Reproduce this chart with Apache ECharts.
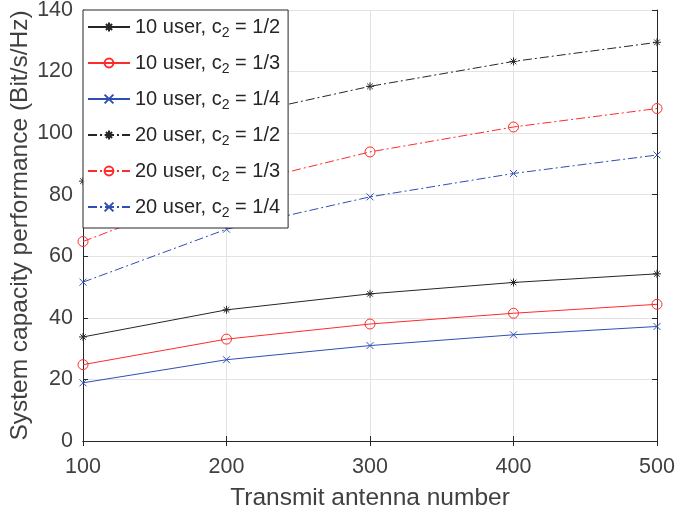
<!DOCTYPE html>
<html><head><meta charset="utf-8">
<script src="https://cdn.jsdelivr.net/npm/echarts@6/dist/echarts.min.js"></script>
<style>html,body{margin:0;padding:0;background:#fff}#c{width:675px;height:514px}</style>
</head><body><div id="c"></div>
<script>
const antennas = [100, 200, 300, 400, 500];
const u10_c2 = [33.8, 42.6, 47.8, 51.5, 54.3];
const u10_c3 = [24.8, 33.1, 38.0, 41.5, 44.4];
const u10_c4 = [18.9, 26.4, 31.0, 34.5, 37.2];
const u20_c2 = [84.4, 105.0, 115.2, 123.3, 129.5];
const u20_c3 = [64.8, 82.5, 93.9, 102.0, 108.0];
const u20_c4 = [51.6, 68.8, 79.3, 86.9, 92.9];
const seriesNames = ['10 user, c2 = 1/2','10 user, c2 = 1/3','10 user, c2 = 1/4','20 user, c2 = 1/2','20 user, c2 = 1/3','20 user, c2 = 1/4'];
const yTicks = [0, 20, 40, 60, 80, 100, 120, 140];

const STAR = 'path://M0,-5L0,5M-5,0L5,0M-3.5,-3.5L3.5,3.5M-3.5,3.5L3.5,-3.5';
const CROSS = 'path://M-4,-4L4,4M-4,4L4,-4';
const BLACK = '#262626', RED = '#ff2a2a', BLUE = '#2e4fb4';
const FONT = 'Liberation Sans';
const DASHDOT = [9, 3, 2, 3];

function mk(name, data, color, sym, dashed) {
  const isCircle = sym === 'circle';
  return {
    name, type: 'line', data: antennas.map((a, i) => [a, data[i]]),
    symbol: sym,
    symbolSize: isCircle ? 10 : (sym === STAR ? 8 : 7),
    showAllSymbol: true,
    lineStyle: { color, width: 1, type: dashed ? DASHDOT : 'solid' },
    itemStyle: { color: 'rgba(0,0,0,0)', borderColor: color, borderWidth: 1 },
    emphasis: { disabled: true },
    animation: false
  };
}

const chart = echarts.init(document.getElementById('c'), null, { renderer: 'canvas' });
const axisCommon = {
  axisLine: { show: true, lineStyle: { color: BLACK, width: 1 } },
  axisTick: { show: true, inside: true, length: 5, lineStyle: { color: BLACK } },
};
chart.setOption({
  animation: false,
  grid: { left: 83, right: 18, top: 10, bottom: 73, containLabel: false, outerBoundsMode: 'none' },
  xAxis: [
    Object.assign({
      type: 'value', min: 100, max: 500, interval: 100,
      name: 'Transmit antenna number', nameLocation: 'middle', nameGap: 45, nameMoveOverlap: false,
      nameTextStyle: { fontFamily: FONT, fontSize: 24.5, color: '#404040' },
      axisLabel: { fontFamily: FONT, fontSize: 21.5, color: '#404040', margin: 15 },
      splitLine: { show: true, lineStyle: { color: '#e3e3e3' } }
    }, axisCommon),
    Object.assign({
      type: 'value', min: 100, max: 500, interval: 100, position: 'top',
      axisLabel: { show: false }, splitLine: { show: false }
    }, axisCommon)
  ],
  yAxis: [
    Object.assign({
      type: 'value', min: yTicks[0], max: yTicks[yTicks.length - 1], interval: 20,
      name: 'System capacity performance (Bit/s/Hz)', nameLocation: 'middle', nameGap: 50, nameMoveOverlap: false,
      nameTextStyle: { fontFamily: FONT, fontSize: 24.5, color: '#404040' },
      axisLabel: { fontFamily: FONT, fontSize: 21.5, color: '#404040', margin: 10 },
      splitLine: { show: true, lineStyle: { color: '#e3e3e3' } }
    }, axisCommon),
    Object.assign({
      type: 'value', min: yTicks[0], max: yTicks[yTicks.length - 1], interval: 20, position: 'right',
      axisLabel: { show: false }, splitLine: { show: false }
    }, axisCommon)
  ],
  legend: {
    left: 83, top: 10, orient: 'vertical',
    backgroundColor: '#fff', borderColor: BLACK, borderWidth: 1,
    padding: [7, 8, 8, 4],
    itemWidth: 42, itemHeight: 11, itemGap: 13,
    selectedMode: false,
    textStyle: { fontFamily: FONT, fontSize: 20, color: '#262626',
      rich: { sub: { fontFamily: FONT, fontSize: 14, color: '#262626', padding: [12, 0, 0, 0] } } },
    formatter: n => n.replace('c2', 'c{sub|2}'),
    data: seriesNames
  },
  series: [
    mk(seriesNames[0], u10_c2, BLACK, STAR, false),
    mk(seriesNames[1], u10_c3, RED, 'circle', false),
    mk(seriesNames[2], u10_c4, BLUE, CROSS, false),
    mk(seriesNames[3], u20_c2, BLACK, STAR, true),
    mk(seriesNames[4], u20_c3, RED, 'circle', true),
    mk(seriesNames[5], u20_c4, BLUE, CROSS, true)
  ]
});
</script></body></html>
